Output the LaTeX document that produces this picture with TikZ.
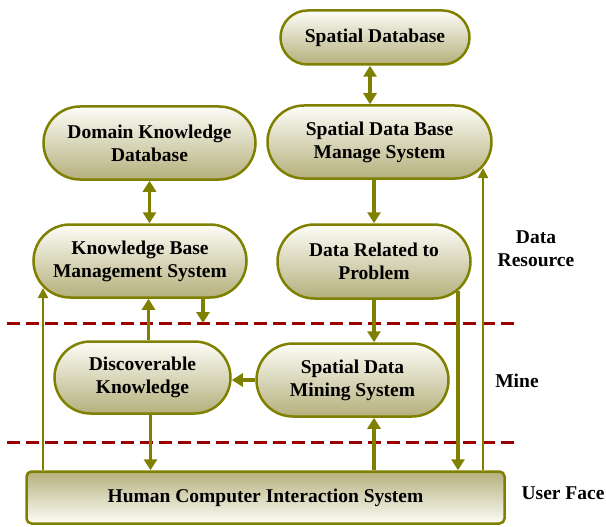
\documentclass[tikz,border=0pt]{standalone}
\usepackage{fontspec}
\setmainfont{Liberation Serif}
\usetikzlibrary{shapes.misc}
\usetikzlibrary{arrows.meta}
\definecolor{olivedraw}{RGB}{128,128,0}
\definecolor{boxlight}{RGB}{253,253,248}
\definecolor{boxdark}{RGB}{180,176,124}
\definecolor{cutred}{RGB}{155,0,0}
\newcommand{\boxfont}{\fontsize{19.5}{23}\selectfont\bfseries}

\begin{document}
\begin{tikzpicture}[x=1pt,y=-1pt,
  unit/.style={rounded rectangle,draw=olivedraw,line width=2.5pt,top color=boxlight,bottom color=boxdark,font=\boxfont,align=center,inner sep=0pt},
  flow/.style={color=olivedraw,line width=3.5pt,>={Triangle[width=13pt,length=11pt]}},
  feed/.style={color=olivedraw,line width=2pt,-{Triangle[width=10pt,length=10pt]}},
  cut/.style={cutred,line width=3pt,dash pattern=on 13pt off 6pt},
  layer/.style={font=\boxfont,align=center}]
\useasboundingbox (0,0) rectangle (606,527);

\node[unit,minimum width=189pt,minimum height=54pt] (sdb) at (375,37.5) {Spatial Database};
\node[unit,minimum width=224pt,minimum height=73pt] (sdbms) at (379.5,142) {Spatial Data Base\\Manage System};
\node[unit,minimum width=193pt,minimum height=74pt] (dr) at (374,261.5) {Data Related to\\Problem};
\node[unit,minimum width=212pt,minimum height=73pt] (dkd) at (149.5,143) {Domain Knowledge\\Database};
\node[unit,minimum width=213pt,minimum height=73pt] (kbms) at (140,261) {Knowledge Base\\Management System};
\node[unit,minimum width=176pt,minimum height=72pt] (dk) at (142.5,377.5) {Discoverable\\Knowledge};
\node[unit,minimum width=192pt,minimum height=73pt] (sdms) at (352.5,380) {Spatial Data\\Mining System};
\node[draw=olivedraw,line width=2.5pt,rounded corners=5pt,top color=boxdark,bottom color=boxlight,
  font=\boxfont,minimum width=478pt,minimum height=52pt] (hci) at (265.5,497.5) {Human Computer Interaction System};

\coordinate (kl) at (43,288);
\coordinate (dra) at (458,291);
\coordinate (sa) at (483,168);
\coordinate (cut1) at (7,323);
\coordinate (cut2) at (7,442);

\draw[cut] (cut1) -- ++(513,0);
\draw[cut] (cut2) -- ++(513,0);

\draw[flow,<->] ([xshift=-5pt]sdb.south) -- ([xshift=-5pt]sdb.south |- sdbms.north);
\draw[flow,<->] (dkd.south) -- (dkd.south |- kbms.north);
\draw[flow,->] (dr.north |- sdbms.south) -- (dr.north);
\draw[flow,->] (dr.south) -- (dr.south |- sdms.north);
\draw[flow,->] (sdms.west) -- (sdms.west -| dk.east);
\draw[flow,->] ([xshift=6pt]dk.north) -- ([xshift=6pt]dk.north |- kbms.south);
\draw[flow,->] ([xshift=63pt]kbms.south) -- ([xshift=63pt]kbms.south |- cut1);
\draw[flow,->] ([xshift=8pt]dk.south) -- ([xshift=8pt]dk.south |- hci.north);
\draw[flow,->] (hci.north -| dr.south) -- (dr.south |- sdms.south);
\draw[flow,->] (dra) -- (dra |- hci.north);
\draw[feed] (hci.north -| kl) -- (kl);
\draw[feed] (hci.north -| sa) -- (sa);

\node[layer] (dres) at (536,249) {Data\\Resource};
\node[layer] (mine) at (517,381) {Mine};
\node[layer] (uface) at (563,493) {User Face};
\end{tikzpicture}
\end{document}
